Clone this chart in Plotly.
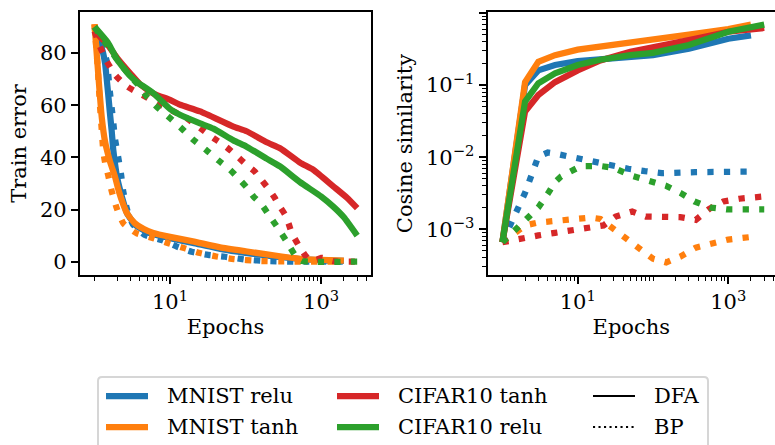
import plotly.graph_objects as go

# ---------------- data: train error (%) ----------------
mnist_relu_dfa_ep = [1, 1.18, 1.3, 1.38, 1.45, 1.52, 1.6, 1.69, 1.77, 1.9, 2.0, 2.3, 2.7, 3.5, 5, 7, 10, 20, 50, 100, 300, 1000, 2000]
mnist_relu_dfa_err = [90, 84, 80, 76, 70, 64, 57, 50, 43, 36, 32, 25, 18.5, 14, 11.3, 10.0, 9.0, 7.2, 4.7, 3.4, 1.7, 0.5, 0.3]

mnist_relu_bp_ep = [1, 1.2, 1.31, 1.45, 1.6, 1.75, 1.87, 2.07, 2.25, 2.4, 2.7, 3.2, 4.66, 7.76, 12.3, 19.3, 32, 53.5, 100, 200, 500, 2000]
mnist_relu_bp_err = [90, 85, 81, 77, 65, 55, 47, 39.7, 33.3, 27, 20, 14.5, 10.2, 8.3, 5.8, 3.8, 2.6, 1.9, 0.8, 0.2, 0.0, 0.0]

mnist_tanh_dfa_ep = [1, 1.12, 1.25, 1.38, 1.6, 1.87, 2.1, 2.4, 2.7, 3.4, 4.5, 6, 10, 20, 46, 100, 300, 580, 1000, 2000]
mnist_tanh_dfa_err = [91, 72, 55, 46, 38.5, 32.5, 27, 22, 18.5, 14.8, 12.5, 11, 9.5, 7.8, 5.5, 4.0, 2.0, 1.0, 0.7, 0.4]

mnist_tanh_bp_ep = [1, 1.1, 1.18, 1.25, 1.31, 1.38, 1.52, 1.69, 1.97, 2.41, 3.6, 6, 9.5, 15.8, 25, 41, 70, 150, 300, 2000]
mnist_tanh_bp_err = [91, 75, 60, 50, 42, 38, 33, 27, 20.5, 14.7, 10.9, 9.0, 7.1, 5.1, 3.3, 2.0, 1.0, 0.3, 0.1, 0.0]

cifar_tanh_dfa_ep = [1, 1.5, 2, 3, 4, 6, 10, 13.5, 25, 69, 103, 190, 286, 525, 790, 1460, 2200, 3000]
cifar_tanh_dfa_err = [88.5, 83, 78, 72, 68, 64.5, 62, 60.2, 57.6, 51.8, 50, 45.8, 43.5, 38, 35.2, 28.8, 24.5, 20.5]

cifar_tanh_bp_ep = [1, 1.18, 1.45, 1.91, 2.75, 4.3, 6.65, 10.5, 16.6, 25, 37.5, 56, 78, 103, 133, 164, 200, 245, 280, 335, 370, 410, 500, 610, 710, 870, 1000, 1100, 1250, 1500, 3000]
cifar_tanh_bp_err = [88.3, 82.5, 76.8, 71.3, 67, 63.9, 60.8, 58, 55, 51.2, 47.4, 43.9, 40.3, 37.1, 34.5, 31.2, 28, 24.3, 21.4, 17.9, 14.7, 10.9, 6.4, 2.6, 0.7, 0.7, 1.5, 1.3, 0.7, 0.1, 0.0]

cifar_relu_dfa_ep = [1, 1.5, 2, 3, 3.6, 6, 10, 13.5, 25, 37.5, 69, 103, 190, 286, 525, 1000, 1460, 2000, 3000]
cifar_relu_dfa_err = [90, 84, 77.4, 71, 69, 64.6, 58.5, 56.3, 53, 51, 46.5, 44.1, 39.5, 36.5, 30.5, 25, 21, 17, 10]

cifar_relu_bp_ep = [1, 2, 3, 4, 5, 6.7, 10, 14.3, 20.4, 30.6, 43.6, 62.5, 80, 103, 127, 164, 210, 270, 350, 450, 550, 700, 3000]
cifar_relu_bp_err = [90, 77.4, 71, 67, 63, 59.3, 55, 51, 46.7, 42.6, 38.8, 35.2, 32, 28.5, 25, 21.8, 17.3, 12.8, 7.7, 2.6, 0.3, 0.0, 0.0]

# ---------------- data: cosine similarity ----------------
cos_ep_mnist = [1, 2, 3, 5, 10, 20, 50, 100, 300, 1000, 2000]
cos_ep_cifar = [1, 2, 3, 5, 10, 20, 50, 100, 300, 1000, 3000]

mnist_relu_dfa_cos = [6.6e-4, 0.10, 0.16, 0.19, 0.215, 0.23, 0.25, 0.26, 0.32, 0.44, 0.49]
mnist_tanh_dfa_cos = [6.6e-4, 0.11, 0.21, 0.26, 0.31, 0.34, 0.38, 0.42, 0.50, 0.60, 0.69]
cifar_tanh_dfa_cos = [6.6e-4, 0.043, 0.073, 0.11, 0.16, 0.22, 0.29, 0.33, 0.42, 0.55, 0.62]
cifar_relu_dfa_cos = [6.6e-4, 0.059, 0.106, 0.146, 0.19, 0.225, 0.26, 0.28, 0.36, 0.55, 0.69]

mnist_relu_bp_cos_ep = [1, 2, 3, 4, 5, 6.4, 10.7, 17.9, 29.7, 47, 78, 131, 362, 1660, 2000]
mnist_relu_bp_cos = [6.6e-4, 3.2e-3, 1.02e-2, 1.16e-2, 1.12e-2, 1.06e-2, 9.4e-3, 8.6e-3, 7.7e-3, 6.9e-3, 6.4e-3, 6.0e-3, 6.2e-3, 6.3e-3, 6.3e-3]

mnist_tanh_bp_cos_ep = [1, 2, 3, 5, 10, 15, 20, 30, 40, 60, 100, 150, 230, 370, 600, 1000, 2000]
mnist_tanh_bp_cos = [6.6e-4, 1.13e-3, 1.24e-3, 1.3e-3, 1.45e-3, 1.45e-3, 1.39e-3, 1.0e-3, 7.9e-4, 5.6e-4, 3.9e-4, 3.47e-4, 4.17e-4, 5.55e-4, 6.46e-4, 7.2e-4, 7.8e-4]

cifar_tanh_bp_cos_ep = [1, 2, 3, 5, 8, 13, 22, 32, 53, 80, 140, 230, 370, 560, 860, 1400, 3000]
cifar_tanh_bp_cos = [6.6e-4, 7.8e-4, 8.2e-4, 8.9e-4, 9.6e-4, 1.01e-3, 1.13e-3, 1.5e-3, 1.76e-3, 1.5e-3, 1.47e-3, 1.47e-3, 1.35e-3, 1.92e-3, 2.43e-3, 2.65e-3, 2.85e-3]

cifar_relu_bp_cos_ep = [1, 2, 3, 4, 5, 6, 8, 11, 20, 30, 50, 100, 150, 234, 354, 570, 950, 3000]
cifar_relu_bp_cos = [6.6e-4, 1.3e-3, 2.0e-3, 3.1e-3, 4.5e-3, 5.4e-3, 6.2e-3, 7.5e-3, 7.55e-3, 7.1e-3, 5.6e-3, 4.4e-3, 4.0e-3, 3.17e-3, 2.43e-3, 2.0e-3, 1.88e-3, 1.88e-3]

# ---------------- labels ----------------
legend_series = ["MNIST relu", "MNIST tanh", "CIFAR10 tanh", "CIFAR10 relu"]
legend_methods = ["DFA", "BP"]
x_tick_vals = [10, 1000]
x_tick_text = ["10<sup>1</sup>", "10<sup>3</sup>"]
err_tick_vals = [0, 20, 40, 60, 80]
cos_tick_vals = [1e-3, 1e-2, 1e-1, 1]
cos_tick_text = ["10<sup>\u22123</sup>", "10<sup>\u22122</sup>", "10<sup>\u22121</sup>", "10<sup>0</sup>"]

# ---------------- style ----------------
W, H = 775, 445
ML, MR, MT, MB = 80, 0, 12, 170
FONT = "DejaVu Serif"
FS = 21
BLUE, ORANGE, GREEN, RED = "#1f77b4", "#ff7f0e", "#2ca02c", "#d62728"
LW = 6.25
DOT = "6.25px,10.3px"

fig = go.Figure()


def add(x, y, color, dotted, xa, ya, smooth):
    line = dict(color=color, width=LW, dash=DOT if dotted else "solid")
    if smooth:
        line.update(shape="spline", smoothing=0.5)
    fig.add_trace(go.Scatter(
        x=x, y=y, mode="lines", xaxis=xa, yaxis=ya, showlegend=False,
        line=line, hoverinfo="skip"))


# left panel: train error
add(mnist_relu_dfa_ep, mnist_relu_dfa_err, BLUE, False, "x", "y", True)
add(mnist_relu_bp_ep, mnist_relu_bp_err, BLUE, True, "x", "y", True)
add(mnist_tanh_dfa_ep, mnist_tanh_dfa_err, ORANGE, False, "x", "y", True)
add(mnist_tanh_bp_ep, mnist_tanh_bp_err, ORANGE, True, "x", "y", True)
add(cifar_tanh_dfa_ep, cifar_tanh_dfa_err, RED, False, "x", "y", True)
add(cifar_tanh_bp_ep, cifar_tanh_bp_err, RED, True, "x", "y", True)
add(cifar_relu_dfa_ep, cifar_relu_dfa_err, GREEN, False, "x", "y", True)
add(cifar_relu_bp_ep, cifar_relu_bp_err, GREEN, True, "x", "y", True)

# right panel: cosine similarity
add(cos_ep_mnist, mnist_relu_dfa_cos, BLUE, False, "x2", "y2", False)
add(mnist_relu_bp_cos_ep, mnist_relu_bp_cos, BLUE, True, "x2", "y2", False)
add(cos_ep_mnist, mnist_tanh_dfa_cos, ORANGE, False, "x2", "y2", False)
add(mnist_tanh_bp_cos_ep, mnist_tanh_bp_cos, ORANGE, True, "x2", "y2", False)
add(cos_ep_cifar, cifar_tanh_dfa_cos, RED, False, "x2", "y2", False)
add(cifar_tanh_bp_cos_ep, cifar_tanh_bp_cos, RED, True, "x2", "y2", False)
add(cos_ep_cifar, cifar_relu_dfa_cos, GREEN, False, "x2", "y2", False)
add(cifar_relu_bp_cos_ep, cifar_relu_bp_cos, GREEN, True, "x2", "y2", False)

log_minor = [m * 10 ** k for k in range(-4, 4) for m in range(2, 10)]
x_minor = [m * 10 ** k for k in range(0, 4) for m in range(1, 10) if not (m == 1 and k in (1, 3))]

axis_common = dict(
    showline=True, linecolor="black", linewidth=1.67, mirror=True,
    ticks="outside", ticklen=7.3, tickwidth=1.67, tickcolor="black",
    showgrid=False, zeroline=False, automargin=False,
    tickfont=dict(family=FONT, size=FS, color="black"),
)
minor_x = dict(tickmode="array", tickvals=x_minor, ticks="outside", ticklen=4.2,
               tickwidth=1.25, tickcolor="black", showgrid=False)
minor_y = dict(tickmode="array", tickvals=log_minor, ticks="outside", ticklen=4.2,
               tickwidth=1.25, tickcolor="black", showgrid=False)

PW = W - ML - MR
PH = H - MT - MB


def px(x):
    return (x - ML) / PW


def py(y):
    return (H - MB - y) / PH


fig.update_layout(
    width=W, height=H, margin=dict(l=ML, r=MR, t=MT, b=MB),
    paper_bgcolor="white", plot_bgcolor="white",
    font=dict(family=FONT, size=FS, color="black"),
    xaxis=dict(type="log", domain=[0, px(371)], range=[-0.192, 3.66],
               tickmode="array", tickvals=x_tick_vals, ticktext=x_tick_text,
               minor=minor_x, title=dict(text="Epochs", font=dict(family=FONT, size=FS), standoff=6),
               **axis_common),
    yaxis=dict(domain=[0, 1], range=[-5.1, 95.7], tickmode="array", tickvals=err_tick_vals,
               title=dict(text="Train error", font=dict(family=FONT, size=FS), standoff=8),
               **axis_common),
    xaxis2=dict(type="log", domain=[px(487.7), 1], range=[-0.195, 3.62], anchor="y2",
                tickmode="array", tickvals=x_tick_vals, ticktext=x_tick_text,
                minor=minor_x, title=dict(text="Epochs", font=dict(family=FONT, size=FS), standoff=6),
                **axis_common),
    yaxis2=dict(type="log", domain=[0, 1], range=[-3.635, 0.014], anchor="x2",
                tickmode="array", tickvals=cos_tick_vals, ticktext=cos_tick_text,
                minor=minor_y,
                title=dict(text="Cosine similarity", font=dict(family=FONT, size=FS), standoff=8),
                **axis_common),
)

# ---------------- legend (three columns, framed) ----------------
shapes = []
annotations = []
bx0, bx1, by0, by1, r = 98, 708, 377, 460, 4
path = (f"M {px(bx0 + r)},{py(by0)} L {px(bx1 - r)},{py(by0)} "
        f"Q {px(bx1)},{py(by0)} {px(bx1)},{py(by0 + r)} L {px(bx1)},{py(by1)} "
        f"L {px(bx0)},{py(by1)} L {px(bx0)},{py(by0 + r)} "
        f"Q {px(bx0)},{py(by0)} {px(bx0 + r)},{py(by0)} Z")
shapes.append(dict(type="path", xref="paper", yref="paper", path=path,
                   line=dict(color="#d6d6d6", width=2), fillcolor="white", layer="above"))

rows_y = [396, 427]
col_x = [106, 337, 593]
HL = 42
entries = [
    (0, 0, legend_series[0], dict(color=BLUE, width=LW)),
    (0, 1, legend_series[1], dict(color=ORANGE, width=LW)),
    (1, 0, legend_series[2], dict(color=RED, width=LW)),
    (1, 1, legend_series[3], dict(color=GREEN, width=LW)),
    (2, 0, legend_methods[0], dict(color="black", width=2.1)),
    (2, 1, legend_methods[1], dict(color="black", width=2.1, dash="2.1px,3.4px")),
]
for c, rw, label, ln in entries:
    x0 = col_x[c]
    y0 = rows_y[rw]
    shapes.append(dict(type="line", xref="paper", yref="paper",
                       x0=px(x0), x1=px(x0 + HL), y0=py(y0), y1=py(y0),
                       line=ln, layer="above"))
    annotations.append(dict(xref="paper", yref="paper", x=px(x0 + HL + 17), y=py(y0),
                            xanchor="left", yanchor="middle", text=label, showarrow=False,
                            font=dict(family=FONT, size=FS, color="black")))

fig.update_layout(shapes=shapes, annotations=annotations)

fig.write_html("out.html")
